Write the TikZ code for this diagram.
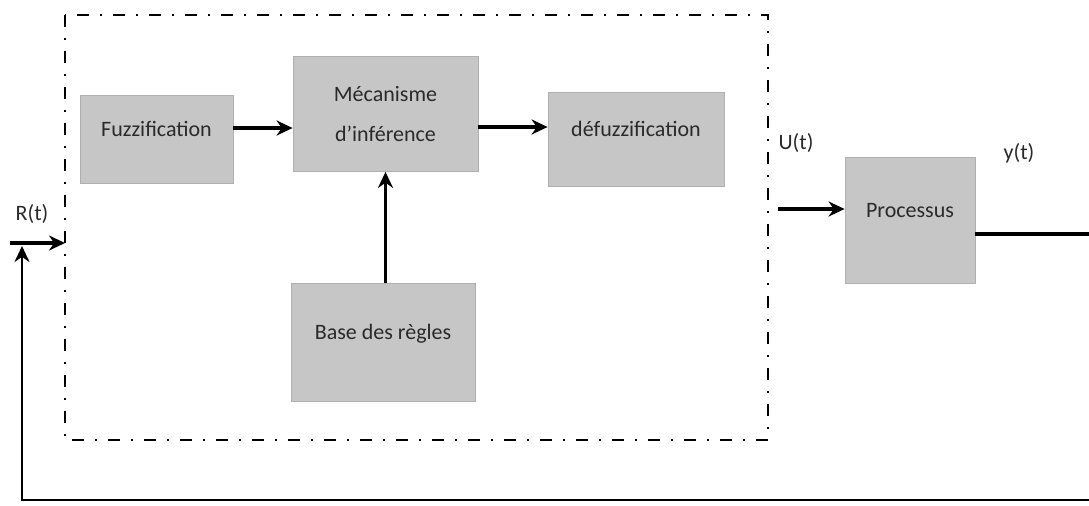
\documentclass[tikz,border=0pt]{standalone}
\usepackage{fontspec}
\setmainfont{Carlito}
\usepackage{tikz}
\usetikzlibrary{arrows.meta}
\definecolor{boxgray}{HTML}{C6C6C6}
\definecolor{boxedge}{HTML}{B0B0B0}
\definecolor{textgray}{HTML}{2A2A2A}

\begin{document}
\begin{tikzpicture}[x=0.5pt, y=-0.5pt,
    block/.style={draw=boxedge, fill=boxgray, text=textgray, align=center,
                  font=\fontsize{11}{20}\selectfont, inner sep=0pt},
    lifted/.style={text height=7pt, text depth=10pt},
    flow/.style={line width=1.6pt, -{Stealth[length=8pt, width=7.5pt]}},
    sig/.style={text=textgray, font=\fontsize{11}{13}\selectfont}]
            \useasboundingbox (0,0) rectangle (1089,505);

            % controller frame
            \draw[line width=1.1pt, dash pattern=on 6pt off 5.5pt on 1pt off 5.5pt] (65,15) rectangle (768,440);

            \node[block, lifted, minimum width=76.5pt, minimum height=44pt] (fuzz) at (156.5,139) {Fuzzification};
            \node[block, minimum width=92.5pt, minimum height=57.5pt] (meca) at (385.5,114) {Mécanisme\\d’inférence};
            \node[block, lifted, minimum width=88pt, minimum height=47pt] (defuzz) at (636,139) {défuzzification};
            \node[block, lifted, minimum width=92pt, minimum height=59pt] (base) at (383,342) {Base des règles};
            \node[block, lifted, minimum width=65pt, minimum height=63pt] (proc) at (910,220) {Processus};

            \node[sig] (rlab) at (32,214) {R(t)};
            \node[sig] (ulab) at (796,143) {U(t)};
            \node[sig] (ylab) at (1019,153) {y(t)};

            \coordinate (rin) at (10,243);
            \coordinate (ctrlin) at (65,243);
            \coordinate (uin) at (778,209);
            \coordinate (yout) at (1092,234);
            \coordinate (fbR) at (1092,500);
            \coordinate (fbL) at (22,500);
            \coordinate (fbUp) at (22,246);

            \draw[flow] ([yshift=5.5pt]fuzz.east) -- ([yshift=5.5pt]fuzz.east -| meca.west);
            \draw[flow] ([yshift=-6.5pt]meca.east) -- ([yshift=-6.5pt]meca.east -| defuzz.west);
            \draw[flow] (base.north -| meca.south) -- (meca.south);
            \draw[flow] (rin) -- (ctrlin);
            \draw[flow] (uin) -- (uin -| proc.west);

            % output and feedback
            \draw[line width=1.6pt] ([yshift=-7pt]proc.east) -- (yout);
            \draw[flow, line width=1.3pt] (yout) -- (fbR) -- (fbL) -- (fbUp);
        \end{tikzpicture}
\end{document}
